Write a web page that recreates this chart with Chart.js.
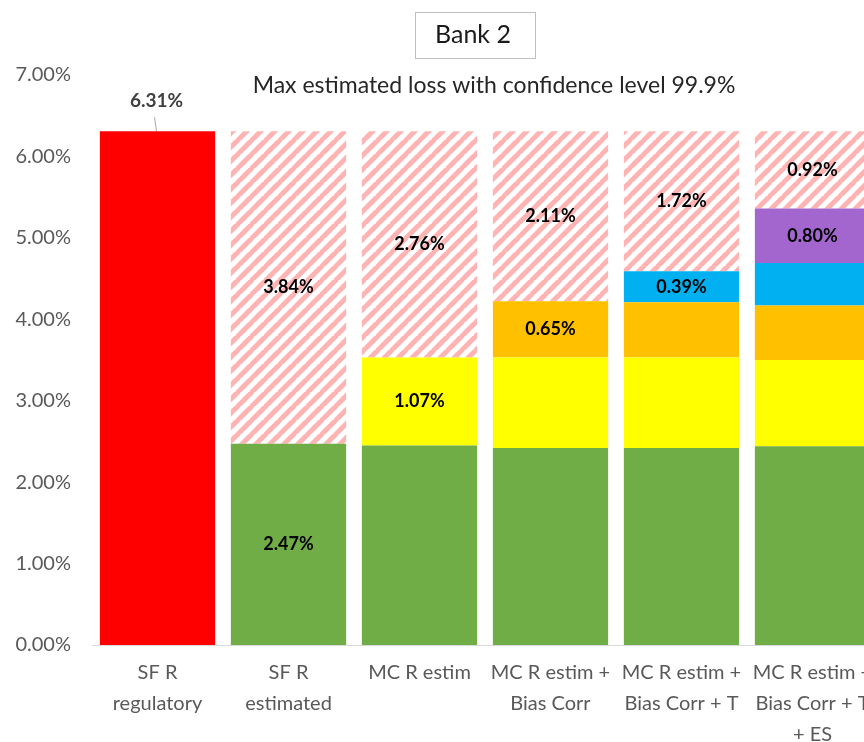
<!DOCTYPE html>
<html>
<head>
<meta charset="utf-8">
<script src="https://cdn.jsdelivr.net/npm/chart.js@4.4.0/dist/chart.umd.min.js"></script>
<style>
  html, body { margin:0; padding:0; background:#fff; overflow:hidden; }
  #wrap { position:absolute; left:0; top:0; width:892px; height:742px; }
</style>
</head>
<body>
<div id="wrap"><canvas id="chart" width="892" height="742"></canvas></div>
<script>
// Bank 2 - max estimated loss, stacked bars (values in %)

const CATEGORIES = [
  ['SF R', 'regulatory'],
  ['SF R', 'estimated'],
  ['MC R estim'],
  ['MC R estim +', 'Bias Corr'],
  ['MC R estim +', 'Bias Corr + T'],
  ['MC R estim +', 'Bias Corr + T', '+ ES']
];

const REGULATORY = [6.31, null, null, null, null, null];
const SF_EST     = [null, 2.47, 2.45, 2.42, 2.42, 2.44];
const MC_EST     = [null, null, 1.08, 1.11, 1.11, 1.06];
const BIAS_CORR  = [null, null, null, 0.69, 0.68, 0.67];
const T_ADJ      = [null, null, null, null, 0.38, 0.52];
const ES_ADJ     = [null, null, null, null, null, 0.67];
const GAP        = [null, 3.84, 2.78, 2.09, 1.72, 0.95];

// data label texts as printed on the chart
const LBL_REGULATORY = ['6.31%', null, null, null, null, null];
const LBL_SF_EST     = [null, '2.47%', null, null, null, null];
const LBL_MC_EST     = [null, null, '1.07%', null, null, null];
const LBL_BIAS_CORR  = [null, null, null, '0.65%', null, null];
const LBL_T_ADJ      = [null, null, null, null, '0.39%', null];
const LBL_ES_ADJ     = [null, null, null, null, null, '0.80%'];
const LBL_GAP        = [null, '3.84%', '2.76%', '2.11%', '1.72%', '0.92%'];

const Y_MAX = 7;
const Y_STEP = 1;

const FONT = "Lato, 'Open Sans', sans-serif";

function makeHatch(){
  const s = 14;
  const c = document.createElement('canvas');
  c.width = s; c.height = s;
  const g = c.getContext('2d');
  g.fillStyle = '#ffffff';
  g.fillRect(0,0,s,s);
  g.strokeStyle = '#ffb3b3';
  g.lineWidth = 5;
  [-s, 0, s].forEach(o => {
    g.beginPath();
    g.moveTo(o - 1, s + 1);
    g.lineTo(o + s + 1, -1);
    g.stroke();
  });
  return document.createElement('canvas').getContext('2d').createPattern(c, 'repeat');
}

const titlePlugin = {
  id: 'bankTitle',
  afterDraw(chart){
    const ctx = chart.ctx;
    ctx.save();
    ctx.strokeStyle = '#bfbfbf';
    ctx.lineWidth = 1;
    ctx.strokeRect(415.5, 12.5, 120, 46);
    ctx.fillStyle = '#1a1a1a';
    ctx.font = `25px ${FONT}`;
    ctx.textAlign = 'center';
    ctx.textBaseline = 'middle';
    ctx.fillText('Bank 2', 473, 35);
    ctx.fillStyle = '#262626';
    ctx.font = `23px ${FONT}`;
    ctx.fillText('Max estimated loss with confidence level 99.9%', 494, 86);
    ctx.restore();
  }
};

const labelPlugin = {
  id: 'segLabels',
  afterDatasetsDraw(chart){
    const ctx = chart.ctx;
    ctx.save();
    ctx.textAlign = 'center';
    ctx.textBaseline = 'middle';
    chart.data.datasets.forEach((ds, di) => {
      const meta = chart.getDatasetMeta(di);
      meta.data.forEach((el, i) => {
        const txt = ds.labelTexts[i];
        if(!txt) return;
        if(ds.labelAbove){
          ctx.strokeStyle = '#a6a6a6';
          ctx.lineWidth = 1;
          ctx.beginPath();
          ctx.moveTo(el.x - 3, el.y - 14);
          ctx.lineTo(el.x - 1, el.y);
          ctx.stroke();
          ctx.fillStyle = '#404040';
          ctx.font = `bold 19px ${FONT}`;
          ctx.fillText(txt, el.x - 1, el.y - 30);
        } else {
          ctx.fillStyle = '#000000';
          ctx.font = `bold 18px ${FONT}`;
          ctx.fillText(txt, el.x, (el.y + el.base) / 2);
        }
      });
    });
    ctx.restore();
  }
};

const hatch = makeHatch();

function ds(label, data, color, texts, above){
  return {
    label, data,
    backgroundColor: color,
    borderWidth: 0,
    labelTexts: texts,
    labelAbove: !!above,
    barPercentage: 0.88,
    categoryPercentage: 1.0
  };
}

new Chart(document.getElementById('chart'), {
  type: 'bar',
  data: {
    labels: CATEGORIES,
    datasets: [
      ds('SF R regulatory', REGULATORY, '#ff0000', LBL_REGULATORY, true),
      ds('SF R estimated', SF_EST, '#70ad47', LBL_SF_EST),
      ds('MC R estim', MC_EST, '#ffff00', LBL_MC_EST),
      ds('Bias Corr', BIAS_CORR, '#ffc000', LBL_BIAS_CORR),
      ds('T', T_ADJ, '#00b0f0', LBL_T_ADJ),
      ds('ES', ES_ADJ, '#a366cf', LBL_ES_ADJ),
      ds('Gap to regulatory', GAP, hatch, LBL_GAP)
    ]
  },
  options: {
    responsive: false,
    animation: false,
    devicePixelRatio: 1,
    layout: { padding: { top: 75, right: 14, left: 0, bottom: 0 } },
    plugins: {
      legend: { display: false },
      tooltip: { enabled: false }
    },
    scales: {
      x: {
        stacked: true,
        grid: { display: false, drawTicks: false },
        border: { display: true, color: '#d9d9d9', width: 1 },
        ticks: {
          color: '#595959',
          font: { family: FONT, size: 20, lineHeight: 1.55 },
          padding: 12,
          maxRotation: 0,
          autoSkip: false
        },
        afterFit: s => { s.height = 97; }
      },
      y: {
        stacked: true,
        min: 0,
        max: Y_MAX,
        grid: { display: false, drawTicks: false },
        border: { display: false },
        ticks: {
          stepSize: Y_STEP,
          color: '#595959',
          font: { family: FONT, size: 20 },
          padding: 21,
          callback: v => v.toFixed(2) + '%'
        },
        afterFit: s => { s.width = 92; }
      }
    }
  },
  plugins: [titlePlugin, labelPlugin]
});
</script>
</body>
</html>
